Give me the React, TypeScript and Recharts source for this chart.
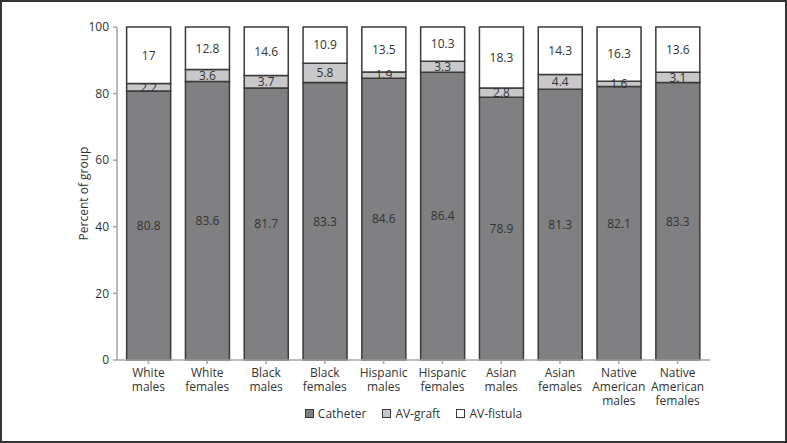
import { BarChart, Bar, XAxis, YAxis, Legend, LabelList } from "recharts";

const groups = [
  "White males",
  "White females",
  "Black males",
  "Black females",
  "Hispanic males",
  "Hispanic females",
  "Asian males",
  "Asian females",
  "Native American males",
  "Native American females",
];
const catheter = [80.8, 83.6, 81.7, 83.3, 84.6, 86.4, 78.9, 81.3, 82.1, 83.3];
const avGraft = [2.2, 3.6, 3.7, 5.8, 1.9, 3.3, 2.8, 4.4, 1.6, 3.1];
const avFistula = [17, 12.8, 14.6, 10.9, 13.5, 10.3, 18.3, 14.3, 16.3, 13.6];
const yTicks = [0, 20, 40, 60, 80, 100];

const FONT = "'Open Sans', 'Noto Sans', sans-serif";
const FS = 12;
const TEXT = "#333";
const AXIS = "#a6a6a6";
const STROKE = "#3a3a3a";

const series = [
  { key: "catheter", name: "Catheter", fill: "#808083" },
  { key: "graft", name: "AV-graft", fill: "#c8c8ca" },
  { key: "fistula", name: "AV-fistula", fill: "#ffffff" },
];

const data = groups.map((g, i) => ({
  group: g,
  catheter: catheter[i],
  graft: avGraft[i],
  fistula: avFistula[i],
}));

// one word per line under each bar
function GroupTick(props: any) {
  const { x, y, payload } = props;
  const words = String(payload.value).split(" ");
  return (
    <g transform={`translate(${x},${y})`}>
      {words.map((w, i) => (
        <text
          key={i}
          x={0}
          y={13 + i * 14}
          textAnchor="middle"
          fill={TEXT}
          fontSize={FS}
          fontFamily={FONT}
        >
          {w}
        </text>
      ))}
    </g>
  );
}

function LegendBox() {
  return (
    <div
      style={{
        display: "flex",
        justifyContent: "center",
        alignItems: "center",
        height: 20,
        paddingLeft: 39,
        fontFamily: FONT,
        fontSize: FS,
        color: TEXT,
      }}
    >
      {series.map((s) => (
        <div
          key={s.key}
          style={{ display: "flex", alignItems: "center", margin: "0 8px" }}
        >
          <span
            style={{
              display: "inline-block",
              width: 7,
              height: 7,
              background: s.fill,
              border: `1px solid ${STROKE}`,
              marginRight: 4,
            }}
          />
          {s.name}
        </div>
      ))}
    </div>
  );
}

export default function App() {
  return (
    <div
      style={{
        position: "absolute",
        left: 0,
        top: 0,
        width: 787,
        height: 443,
        boxSizing: "border-box",
        border: "2px solid #333",
        background: "#fff",
      }}
    >
      <BarChart
        width={783}
        height={439}
        data={data}
        margin={{ top: 25, right: 75, left: 76, bottom: 18 }}
        barCategoryGap="13%"
      >
        <XAxis
          dataKey="group"
          interval={0}
          height={43}
          tick={<GroupTick />}
          tickSize={4}
          tickMargin={0}
          padding={{ left: 2, right: 3 }}
          stroke={AXIS}
          strokeWidth={1.5}
          tickLine={{ stroke: AXIS }}
        />
        <YAxis
          width={39}
          domain={[0, 100]}
          ticks={yTicks}
          tickSize={4}
          tickMargin={4}
          stroke={AXIS}
          strokeWidth={1.5}
          tick={{ fill: TEXT, fontSize: FS, fontFamily: FONT }}
          label={{
            value: "Percent of group",
            angle: -90,
            position: "insideLeft",
            offset: 6,
            style: {
              textAnchor: "middle",
              fill: TEXT,
              fontSize: FS,
              fontFamily: FONT,
            },
          }}
        />
        <Legend verticalAlign="bottom" content={<LegendBox />} />
        {series.map((s) => (
          <Bar
            key={s.key}
            dataKey={s.key}
            name={s.name}
            stackId="a"
            fill={s.fill}
            stroke={STROKE}
            strokeWidth={1.5}
            isAnimationActive={false}
          >
            <LabelList
              dataKey={s.key}
              position="center"
              fill={TEXT}
              fontSize={FS}
              fontFamily={FONT}
            />
          </Bar>
        ))}
      </BarChart>
    </div>
  );
}
